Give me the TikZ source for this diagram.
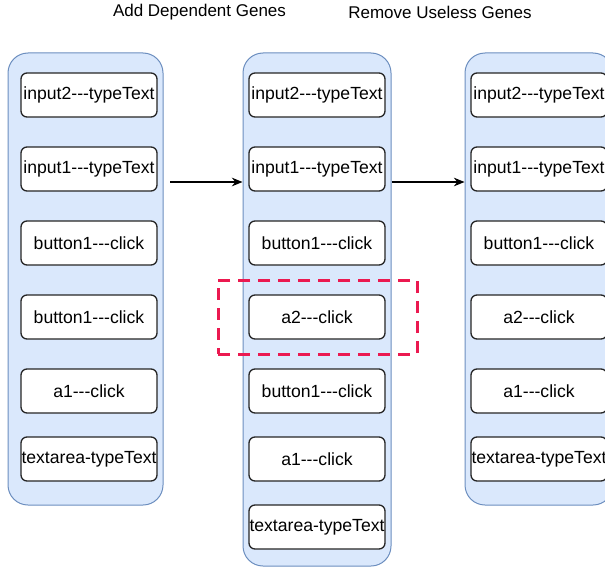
\documentclass[tikz,border=0pt]{standalone}
\usepackage{fontspec}
\setmainfont{Liberation Sans}
\usetikzlibrary{arrows.meta}

\definecolor{lanefill}{HTML}{DAE8FC}
\definecolor{laneline}{HTML}{6C8EBF}
\definecolor{markred}{RGB}{235,25,80}

\begin{document}
\begin{tikzpicture}[x=0.75pt, y=-0.75pt, >={Stealth[length=8pt,width=6.5pt]},
  lane/.style={draw=laneline, fill=lanefill, line width=0.75pt, rounded corners=15pt},
  gene/.style={draw=black!85, fill=white, line width=1pt, rounded corners=4.5pt,
    minimum width=102pt, minimum height=33pt, inner sep=0pt,
    font=\fontsize{13.2}{15}\selectfont},
  title/.style={font=\fontsize{12.75}{15}\selectfont}]

  \clip (0,0) rectangle (605,567);

  % Lanes
  \node[lane, minimum width=116.25pt, minimum height=339pt] (laneA) at (85.5,279) {};
  \node[lane, minimum width=111pt, minimum height=384.75pt] (laneB) at (317,309.5) {};
  \node[lane, minimum width=111pt, minimum height=339pt] (laneC) at (539,279) {};

  % Titles
  \node[title] (addT) at (199.5,12) {Add Dependent Genes};
  \node[title] (remT) at (440,12) {Remove Useless Genes};

  % Genes, first lane
  \foreach \n/\y/\t in {1/95/input2-{}-{}-typeText, 2/169/input1-{}-{}-typeText,
      3/243/button1-{}-{}-click, 4/317/button1-{}-{}-click,
      5/391/a1-{}-{}-click, 6/459/textarea-typeText} {
    \node[gene] (a\n) at (89,\y) {\t};
  }

  % Genes, second lane
  \foreach \n/\y/\t in {1/95/input2-{}-{}-typeText, 2/169/input1-{}-{}-typeText,
      3/243/button1-{}-{}-click, 4/317/a2-{}-{}-click,
      5/391/button1-{}-{}-click, 6/459/a1-{}-{}-click, 7/527/textarea-typeText} {
    \node[gene] (b\n) at (317,\y) {\t};
  }

  % Genes, third lane
  \foreach \n/\y/\t in {1/95/input2-{}-{}-typeText, 2/169/input1-{}-{}-typeText,
      3/243/button1-{}-{}-click, 4/317/a2-{}-{}-click,
      5/391/a1-{}-{}-click, 6/459/textarea-typeText} {
    \node[gene] (c\n) at (539,\y) {\t};
  }

  % Added gene
  \node[draw=markred, line width=2.25pt, dash pattern=on 9pt off 6pt,
    minimum width=149.25pt, minimum height=55.5pt] (added) at (317.5,317) {};

  % Steps
  \coordinate (s1) at (170,182);
  \draw[->, line width=0.9pt] (s1) -- (s1 -| laneB.west);
  \draw[->, line width=0.9pt] (laneB.east |- s1) -- (laneC.west |- s1);

\end{tikzpicture}
\end{document}
